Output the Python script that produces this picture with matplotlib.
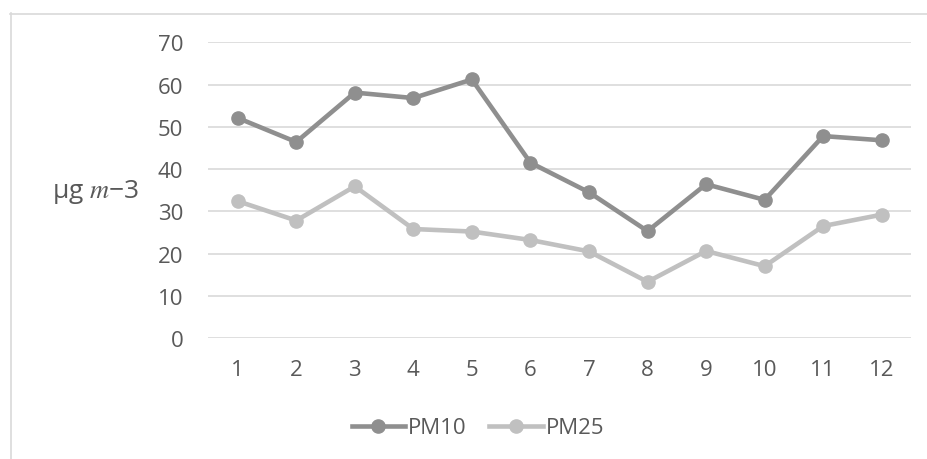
import numpy as np
import matplotlib
matplotlib.use("Agg")
import matplotlib.pyplot as plt
from matplotlib.lines import Line2D

plt.rcParams['font.family'] = ['Open Sans', 'DejaVu Sans']
plt.rcParams['mathtext.fontset'] = 'stix'

months = [1, 2, 3, 4, 5, 6, 7, 8, 9, 10, 11, 12]
pm10 = [52.1, 46.4, 58.1, 56.8, 61.2, 41.5, 34.5, 25.3, 36.4, 32.7, 47.8, 46.8]
pm25 = [32.4, 27.8, 35.9, 25.8, 25.2, 23.2, 20.5, 13.3, 20.6, 17.0, 26.5, 29.2]

W, H = 927, 460
fig = plt.figure(figsize=(W/100, H/100), dpi=100)
ax = fig.add_axes([208.4/W, 1 - 339/H, (911 - 208.4)/W, (339 - 43.3)/H])

txt = '#595959'
fs = 16
x = np.arange(len(months))
ax.plot(x, pm10, color='#8f8f8f', lw=3.3, marker='o', ms=9.5, label='PM10', zorder=3)
ax.plot(x, pm25, color='#c0c0c0', lw=3.3, marker='o', ms=9.5, label='PM25', zorder=3)

ax.set_xlim(-0.5, len(months) - 0.5)
ax.set_ylim(0, 70)
ax.set_yticks(range(0, 71, 10))
ax.set_xticks(x)
ax.set_xticklabels([str(m) for m in months])
ax.grid(axis='y', color='#d9d9d9', lw=1.2)
ax.set_axisbelow(True)
for s in ax.spines.values():
    s.set_visible(False)
ax.tick_params(length=0, labelsize=fs, colors=txt)
ax.tick_params(axis='x', pad=15)
ax.tick_params(axis='y', pad=18)

fig.text(96/W, 1 - 192/H, 'μg $m$−3', fontsize=19, color=txt, ha='center', va='center')

# chart area border
fig.add_artist(Line2D([10.5/W, 10.5/W], [0, 1 - 14/H], color='#d9d9d9', lw=1.2))
fig.add_artist(Line2D([10/W, 1], [1 - 14.5/H, 1 - 14.5/H], color='#d9d9d9', lw=1.2))

fig.legend(loc='center', bbox_to_anchor=(478/W, 1 - 429/H), ncol=2, frameon=False,
           fontsize=fs, labelcolor=txt, handlelength=2.4, handletextpad=0.15,
           columnspacing=1.0)

fig.savefig('out.png', dpi=100)
